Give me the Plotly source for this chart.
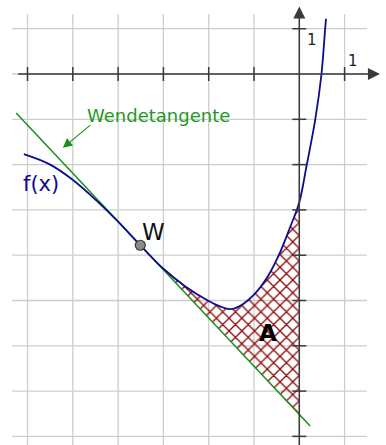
import plotly.graph_objects as go

# f(x)
curve_x = [-6.08, -5.50, -5.01, -4.47, -4.00, -3.51, -3.00, -2.50, -2.00, -1.75, -1.53,
           -1.31, -0.99, -0.69, -0.43, -0.21, 0.00, 0.16, 0.35, 0.49, 0.57, 0.59]
curve_y = [-1.77, -2.00, -2.33, -2.80, -3.26, -3.78, -4.30, -4.70, -5.01, -5.13, -5.19,
           -5.12, -4.86, -4.46, -3.95, -3.40, -2.83, -2.03, -1.02, 0.00, 0.99, 1.22]

# Wendetangente (inflection tangent)
tangent_x = [-6.25, -3.51, 0.00, 0.24]
tangent_y = [-0.86, -3.78, -7.52, -7.77]

# inflection point W
w_x = -3.51
w_y = -3.78

# axis ticks / grid
grid_x = [-6, -5, -4, -3, -2, -1, 0, 1]
grid_y = [-8, -7, -6, -5, -4, -3, -2, -1, 0, 1]
ticks_x = [-6, -5, -4, -3, -2, -1, 1]
ticks_y = [-8, -7, -6, -5, -4, -3, -2, -1, 1]

FONT = "DejaVu Sans"
BLUE = "#0c0c8e"
GREEN = "#1a8f1a"
AXIS = "#3a3a3a"

fig = go.Figure()

# hatched area between tangent and curve, from W to the y axis
i0 = curve_x.index(w_x)
i1 = curve_x.index(0.00)
j0 = tangent_x.index(w_x)
j1 = tangent_x.index(0.00)
fig.add_trace(go.Scatter(x=tangent_x[j0:j1 + 1], y=tangent_y[j0:j1 + 1], mode="lines",
                         line=dict(width=0), hoverinfo="skip"))
fig.add_trace(go.Scatter(x=curve_x[i0:i1 + 1], y=curve_y[i0:i1 + 1], mode="lines",
                         line=dict(width=0, shape="spline"), fill="tonexty",
                         fillcolor="rgba(0,0,0,0)",
                         fillpattern=dict(shape="x", fgcolor="#8c0a0a", bgcolor="rgba(0,0,0,0)",
                                          fgopacity=1, size=9, solidity=0.27),
                         hoverinfo="skip"))

# tangent and curve
fig.add_trace(go.Scatter(x=tangent_x, y=tangent_y, mode="lines",
                         line=dict(color=GREEN, width=1.5)))
fig.add_trace(go.Scatter(x=curve_x, y=curve_y, mode="lines",
                         line=dict(color=BLUE, width=1.8, shape="spline")))

# tick marks
fig.add_trace(go.Scatter(x=ticks_x, y=[0] * len(ticks_x), mode="markers",
                         marker=dict(symbol="line-ns", size=10, line=dict(color=AXIS, width=1.5))))
fig.add_trace(go.Scatter(x=[0] * len(ticks_y), y=ticks_y, mode="markers",
                         marker=dict(symbol="line-ew", size=10, line=dict(color=AXIS, width=1.5))))

# point W
fig.add_trace(go.Scatter(x=[w_x], y=[w_y], mode="markers",
                         marker=dict(size=10, color="#8a8a8a", line=dict(color="#3a3a3a", width=1.2))))

# grid
shapes = []
for gx in grid_x:
    shapes.append(dict(type="line", x0=gx, x1=gx, y0=-8.3, y1=1.32, layer="below",
                       line=dict(color="#cdcdcd", width=1.3)))
for gy in grid_y:
    shapes.append(dict(type="line", x0=-6.34, x1=1.49, y0=gy, y1=gy, layer="below",
                       line=dict(color="#cdcdcd", width=1.3)))

annotations = [
    # axes with arrows
    dict(x=1.78, y=0, ax=-6.24, ay=0, xref="x", yref="y", axref="x", ayref="y", text="",
         showarrow=True, arrowhead=2, arrowsize=1.6, arrowwidth=1.5, arrowcolor=AXIS),
    dict(x=0, y=1.49, ax=0, ay=-8.4, xref="x", yref="y", axref="x", ayref="y", text="",
         showarrow=True, arrowhead=2, arrowsize=1.6, arrowwidth=1.5, arrowcolor=AXIS),
    # pointer to the tangent
    dict(x=-5.22, y=-1.63, ax=-4.58, ay=-1.10, xref="x", yref="y", axref="x", ayref="y", text="",
         showarrow=True, arrowhead=2, arrowsize=1.7, arrowwidth=1.1, arrowcolor=GREEN),
    dict(x=-3.10, y=-0.905, text="Wendetangente", showarrow=False,
         font=dict(family=FONT, size=18, color="#1e9a1e")),
    dict(x=-5.70, y=-2.43, text="f(x)", showarrow=False,
         font=dict(family=FONT, size=21, color=BLUE)),
    dict(x=-3.21, y=-3.48, text="W", showarrow=False,
         font=dict(family=FONT, size=23, color="#111111")),
    dict(x=-0.684, y=-5.72, text="<b>A</b>", showarrow=False,
         font=dict(family=FONT, size=23, color="#000000")),
    dict(x=0.274, y=0.75, text="1", showarrow=False,
         font=dict(family=FONT, size=15, color="#222222")),
    dict(x=1.179, y=0.28, text="1", showarrow=False,
         font=dict(family=FONT, size=15, color="#222222")),
]

fig.update_layout(
    width=386, height=445,
    margin=dict(l=0, r=0, t=0, b=0),
    paper_bgcolor="white", plot_bgcolor="white",
    showlegend=False,
    xaxis=dict(range=[-6.607, 1.914], visible=False, fixedrange=True),
    yaxis=dict(range=[-8.19, 1.634], visible=False, fixedrange=True),
    shapes=shapes,
    annotations=annotations,
)

# the page body has a default 8px margin; drop it so the figure sits at the corner
fig.write_html("out.html", config={"displayModeBar": False},
               post_script="document.body.style.margin = '0';")
